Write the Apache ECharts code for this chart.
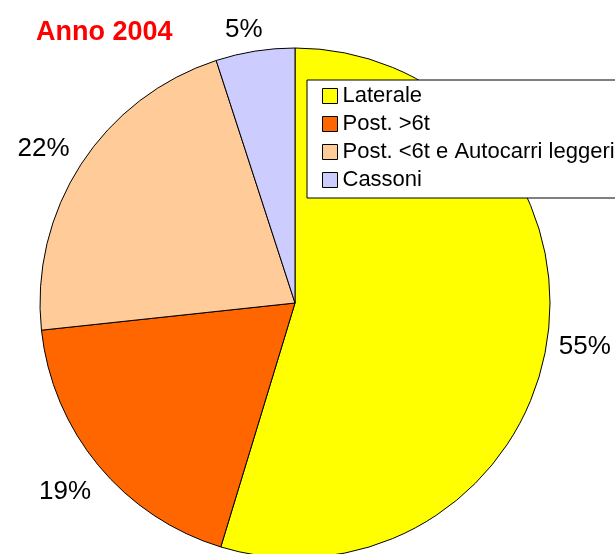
<!DOCTYPE html>
<html>
<head>
<meta charset="utf-8">
<script src="https://cdn.jsdelivr.net/npm/echarts@6/dist/echarts.min.js"></script>
<style>
  html, body { margin: 0; padding: 0; background: #fff; }
  #chartPie { width: 615px; height: 554px; }
</style>
</head>
<body>
<div id="chartPie"></div>
<script>
var categories = ['Laterale', 'Post. >6t', 'Post. <6t e Autocarri leggeri', 'Cassoni'];
var values = [54.7, 18.6, 21.7, 5.0];
var colors = ['#FFFF00', '#FF6600', '#FFCC99', '#CCCCFF'];
// label distance tweaks per slice
var labelLen = [40, 42, 28, 22];
var labelLen2 = [-33, -30, -17, -16];

var chartPie = echarts.init(document.getElementById('chartPie'));
var font = "'Liberation Sans', Arial, sans-serif";

chartPie.setOption({
    backgroundColor: '#fff',
    animation: false,
    title: {
        text: 'Anno 2004',
        left: 31,
        top: 14,
        textStyle: {
            color: '#FF0000',
            fontWeight: 'bold',
            fontSize: 27,
            fontFamily: font
        }
    },
    legend: {
        orient: 'vertical',
        left: 307,
        top: 80,
        padding: [2, 20, 4, 15],
        itemGap: 0,
        itemWidth: 15,
        itemHeight: 15,
        icon: 'rect',
        backgroundColor: '#fff',
        borderColor: '#000',
        borderWidth: 1,
        itemStyle: { borderColor: '#000', borderWidth: 1 },
        textStyle: {
            color: '#000',
            fontSize: 22,
            lineHeight: 28,
            fontFamily: font
        },
        data: categories
    },
    series: [
        {
            type: 'pie',
            center: [295, 303],
            radius: 255,
            startAngle: 90,
            clockwise: true,
            avoidLabelOverlap: false,
            itemStyle: { borderColor: '#000', borderWidth: 1 },
            label: {
                show: true,
                position: 'outside',
                color: '#000',
                fontSize: 26,
                fontFamily: font,
                formatter: function (p) { return Math.round(p.percent) + '%'; }
            },
            labelLine: { show: false, length: 15, length2: 0 },
            emphasis: { disabled: true },
            data: categories.map(function (name, i) {
                return {
                    name: name,
                    value: values[i],
                    itemStyle: { color: colors[i] },
                    labelLine: { show: false, length: labelLen[i], length2: labelLen2[i] }
                };
            })
        }
    ]
});
</script>
</body>
</html>
